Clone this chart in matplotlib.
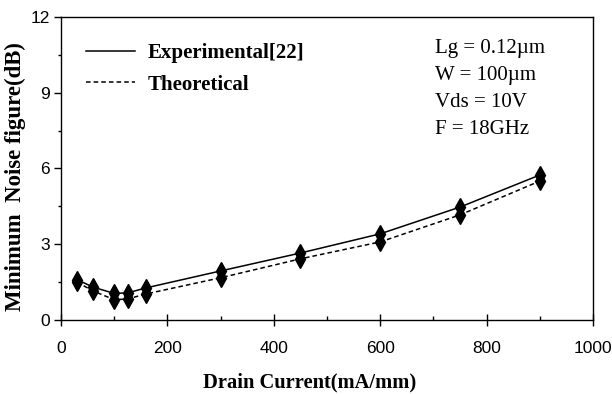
import matplotlib
matplotlib.use('Agg')
import matplotlib.pyplot as plt
from matplotlib.ticker import MultipleLocator

# drain current (mA/mm) and minimum noise figure (dB)
current = [30, 60, 100, 125, 160, 300, 450, 600, 750, 900]
nf_exp = [1.6, 1.3, 1.05, 1.07, 1.27, 1.94, 2.65, 3.41, 4.47, 5.74]
nf_theory = [1.5, 1.15, 0.8, 0.83, 1.03, 1.67, 2.42, 3.09, 4.16, 5.5]

x_ticks = [0, 200, 400, 600, 800, 1000]
y_ticks = [0, 3, 6, 9, 12]
params = ['Lg = 0.12\u00b5m', 'W = 100\u00b5m', 'Vds = 10V', 'F = 18GHz']

serif = ['Liberation Serif', 'DejaVu Serif']
narrow = ['Liberation Sans Narrow', 'Liberation Sans', 'DejaVu Sans']

fig = plt.figure(figsize=(6.12, 3.94), dpi=100)
ax = fig.add_axes([0.0997, 0.188, 0.8693, 0.769])

ax.plot(current, nf_exp, color='black', lw=1.1, ls='-',
        marker='d', ms=9, mfc='black', mec='black', label='Experimental[22]')
ax.plot(current, nf_theory, color='black', lw=1.1, ls=(0, (3, 2)),
        marker='d', ms=9, mfc='black', mec='black', label='Theoretical')

ax.set_xlim(0, 1000)
ax.set_ylim(0, 12)
ax.set_xticks(x_ticks)
ax.set_yticks(y_ticks)
ax.xaxis.set_minor_locator(MultipleLocator(100))
ax.yaxis.set_minor_locator(MultipleLocator(1.5))
ax.tick_params(axis='x', which='major', direction='inout', length=9, width=1, pad=11)
ax.tick_params(axis='x', which='minor', direction='in', length=3, width=1)
ax.tick_params(axis='y', which='major', direction='out', length=5, width=1, pad=3)
ax.tick_params(axis='y', which='minor', direction='out', length=2, width=1)
for lab in ax.get_xticklabels() + ax.get_yticklabels():
    lab.set_family(narrow)
    lab.set_fontsize(12.5)

ax.set_xlabel('Drain Current(mA/mm)', family=serif, fontweight='bold', fontsize=14.8)
ax.xaxis.set_label_coords(0.468, -0.205, transform=ax.transAxes)
ax.xaxis.label.set_va('center')
ax.set_ylabel('Minimum  Noise figure(dB)', family=serif, fontweight='bold', fontsize=16.5)
ax.yaxis.set_label_coords(-0.085, 0.472, transform=ax.transAxes)
ax.yaxis.label.set_va('center')

leg = ax.legend(loc='upper left', bbox_to_anchor=(0.012, 0.975), frameon=False,
                handlelength=2.35, handletextpad=0.58, labelspacing=0.55,
                prop={'family': serif, 'weight': 'bold', 'size': 15})
for h in leg.get_lines():
    h.set_marker('')

ax.text(0.703, 0.927, '\n'.join(params), transform=ax.transAxes, va='top', ha='left',
        family=serif, fontsize=15, linespacing=1.57)

for s in ax.spines.values():
    s.set_linewidth(1)

fig.savefig('out.png', dpi=100)
